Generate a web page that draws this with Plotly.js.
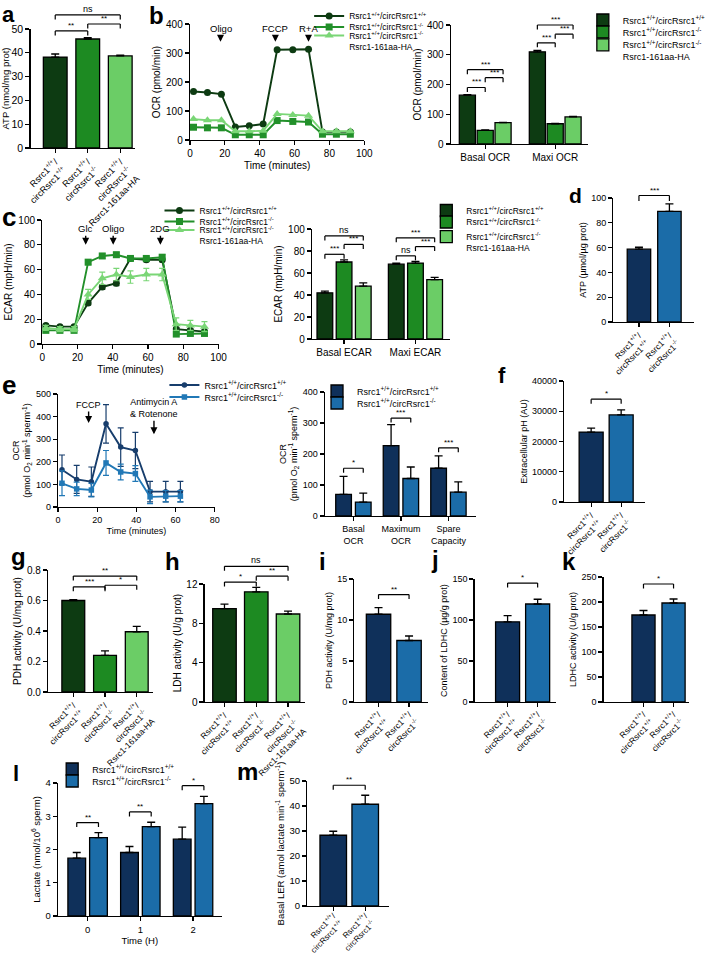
<!DOCTYPE html>
<html><head><meta charset="utf-8">
<script src="https://cdn.plot.ly/plotly-3.0.1.min.js"></script>
<style>html,body{margin:0;padding:0;background:#fff}#chart{width:711px;height:955px}</style>
</head><body><div id="chart"></div>
<script>
// ================= DATA =================
const catsGreen = ['Rsrc1<sup>+/+</sup>/<br>circRsrc1<sup>+/+</sup>', 'Rsrc1<sup>+/+</sup>/<br>circRsrc1<sup>-/-</sup>', 'Rsrc1<sup>+/+</sup>/<br>circRsrc1<sup>-/-</sup><br>Rsrc1-161aa-HA'];
const catsBlue = ['Rsrc1<sup>+/+</sup>/<br>circRsrc1<sup>+/+</sup>', 'Rsrc1<sup>+/+</sup>/<br>circRsrc1<sup>-/-</sup>'];
const namesGreen = ['Rsrc1<sup>+/+</sup>/circRsrc1<sup>+/+</sup>', 'Rsrc1<sup>+/+</sup>/circRsrc1<sup>-/-</sup>', 'Rsrc1<sup>+/+</sup>/circRsrc1<sup>-/-</sup><br>Rsrc1-161aa-HA'];
const namesBlue = ['Rsrc1<sup>+/+</sup>/circRsrc1<sup>+/+</sup>', 'Rsrc1<sup>+/+</sup>/circRsrc1<sup>-/-</sup>'];

// a
const atpA = [38.2, 45.8, 38.7];
const atpAErr = [1.3, 0.6, 0.3];
// b left
const timeB = [2, 10, 18, 26, 34, 42, 50, 59, 68, 76, 84, 92];
const ocrB_wt = [167, 164, 158, 45, 49, 55, 311, 311, 313, 28, 28, 28];
const ocrB_ko = [44, 42, 42, 18, 18, 18, 67, 64, 62, 20, 20, 20];
const ocrB_resc = [72, 68, 68, 30, 30, 32, 90, 86, 84, 30, 30, 30];
// b right
const ocrCats = ['Basal OCR', 'Maxi OCR'];
const ocrBar_wt = [164, 310], ocrBar_wtErr = [2, 5];
const ocrBar_ko = [46, 68], ocrBar_koErr = [1, 1.5];
const ocrBar_resc = [72, 91], ocrBar_rescErr = [1, 1.5];
// c left
const timeC = [2, 10, 18, 26, 34, 42, 50, 59, 68, 76, 84, 92];
const ecarC_wt = [15, 14, 14, 33, 46, 49, 69, 68, 68, 12, 11, 10];
const ecarC_wtErr = [1, 1, 1, 1.5, 2, 2, 1.5, 1.5, 1.5, 1, 1, 1];
const ecarC_ko = [11, 11, 11, 66, 71, 72, 69, 69, 70, 8, 8.5, 8.5];
const ecarC_koErr = [1, 1, 1, 2, 2, 2, 1.5, 1.5, 2, 1, 1, 1];
const ecarC_resc = [13, 12, 12, 40, 53, 56, 54, 56, 56, 16, 15, 14];
const ecarC_rescErr = [2, 2, 2, 4, 5, 5, 5, 5, 5, 5, 4, 4];
// c right
const ecarCats = ['Basal ECAR', 'Maxi ECAR'];
const ecarBar_wt = [42, 68], ecarBar_wtErr = [1.5, 1];
const ecarBar_ko = [70, 69], ecarBar_koErr = [2, 1.5];
const ecarBar_resc = [48, 54], ecarBar_rescErr = [3, 2];
// d
const atpD = [58.7, 89.2], atpDErr = [1.6, 6];
// e left
const timeE = [2, 9.5, 17, 24.5, 32, 39.5, 47, 55, 62.5];
const ocrE_wt = [165, 122, 112, 368, 265, 250, 68, 68, 68];
const ocrE_wtErr = [65, 62, 65, 85, 85, 80, 45, 45, 45];
const ocrE_ko = [105, 80, 75, 195, 155, 148, 45, 48, 48];
const ocrE_koErr = [55, 30, 30, 55, 35, 35, 30, 25, 25];
// e right
const ocrECats = ['Basal<br>OCR', 'Maximum<br>OCR', 'Spare<br>Capacity'];
const ocrEBar_wt = [70, 227, 154], ocrEBar_wtErr = [58, 68, 40];
const ocrEBar_ko = [45, 121, 77], ocrEBar_koErr = [29, 37, 33];
// f
const phF = [23100, 28800], phFErr = [1300, 1650];
// g
const pdhG = [0.6, 0.24, 0.395], pdhGErr = [0.006, 0.03, 0.035];
// h
const ldhH = [9.5, 11.2, 8.95], ldhHErr = [0.45, 0.45, 0.3];
// i
const pdhI = [10.7, 7.5], pdhIErr = [0.8, 0.55];
// j
const ldhcJ = [97.8, 119.5], ldhcJErr = [7.5, 5.8];
// k
const ldhcK = [174, 198], ldhcKErr = [9, 8];
// l
const timeL = ['0', '1', '2'];
const lac_wt = [1.74, 1.91, 2.31], lac_wtErr = [0.17, 0.18, 0.36];
const lac_ko = [2.36, 2.69, 3.38], lac_koErr = [0.15, 0.13, 0.22];
// m
const lerM = [28.3, 40.7], lerMErr = [1.6, 3.6];

// significance brackets: [from, to, value level, label]
const sigA = [[0, 2, 55.9, 'ns'], [0, 1, 49.2, '**'], [1, 2, 52.1, '**']];
const sigBR = [[-0.255, 0.255, 250, '***'], [-0.255, 0, 190, '***'], [0, 0.255, 223, '***'], [0.745, 1.255, 400, '***'], [0.745, 1, 340, '***'], [1, 1.255, 369, '***']];
const sigCR = [[-0.269, 0.269, 93.7, 'ns'], [-0.269, 0, 77, '***'], [0, 0.269, 86, '***'], [0.731, 1.269, 92, '***'], [0.731, 1, 75.6, 'ns'], [1, 1.269, 84, '***']];
const sigD = [[0, 1, 102, '***']];
const sigER = [[-0.207, 0.207, 154, '*'], [0.793, 1.207, 316, '***'], [1.793, 2.207, 220, '***']];
const sigF = [[0, 1, 34000, '*']];
const sigG = [[0, 2, 0.76, '**'], [0, 1, 0.69, '***'], [1, 2, 0.70, '*']];
const sigH = [[0, 2, 13.8, 'ns'], [0, 1, 12.2, '*'], [1, 2, 12.8, '**']];
const sigI = [[0, 1, 13.1, '**']];
const sigJ = [[0, 1, 145, '*']];
const sigK = [[0, 1, 236, '*']];
const sigL = [[-0.206, 0.206, 2.81, '**'], [0.794, 1.206, 3.13, '**'], [1.794, 2.206, 3.92, '*']];
const sigM = [[0, 1, 48.3, '**']];

// ================= STYLE / LAYOUT =================
const W = 711, H = 955;
const FONT = 'Liberation Sans, Arial, Helvetica, sans-serif';
const G1 = '#0d3b12', G2 = '#1d8a22', G3 = '#6bcd66';
const B1 = '#0f305a', B2 = '#1b6ca8';
const LG1 = '#0d3b12', LG2 = '#22902a', LG3 = '#7ad676';
const LB1 = '#173d6c', LB2 = '#2178b6';

const layout = {
  width: W, height: H, margin: {l: 0, r: 0, t: 0, b: 0},
  paper_bgcolor: '#fff', plot_bgcolor: 'rgba(0,0,0,0)',
  barmode: 'overlay', showlegend: true,
  font: {family: FONT, size: 9, color: '#000'},
  shapes: [], annotations: []
};
const traces = [];
const panels = {};

function axis(extra, title, fs, tfs) {
  const a = {
    showline: true, linecolor: '#000', linewidth: 1.3, ticks: 'outside', ticklen: 4, tickwidth: 1.2,
    tickcolor: '#000', showgrid: false, zeroline: false, fixedrange: true, automargin: false,
    tickfont: {family: FONT, size: fs, color: '#000'}
  };
  if (title) a.title = {text: title, font: {family: FONT, size: tfs || fs, color: '#000'}, standoff: 3};
  return Object.assign(a, extra);
}
function panel(name, n, b, fs, xo, yo, xt, yt, tfs) {
  const xid = n === 1 ? 'x' : 'x' + n, yid = n === 1 ? 'y' : 'y' + n;
  layout['xaxis' + (n === 1 ? '' : n)] = axis(Object.assign({domain: [b[0] / W, b[1] / W], anchor: yid}, xo), xt, fs, tfs);
  layout['yaxis' + (n === 1 ? '' : n)] = axis(Object.assign({domain: [1 - b[3] / H, 1 - b[2] / H], anchor: xid}, yo), yt, fs, tfs);
  panels[name] = {xid, yid, hpx: b[3] - b[2], ymax: yo.range[1]};
  return panels[name];
}
function errUp(arr) { return {type: 'data', array: arr, arrayminus: arr.map(() => 0), symmetric: false, color: '#000', thickness: 1.3, width: 4}; }
function errSym(arr, col) { return {type: 'data', array: arr, color: col, thickness: 1.2, width: 3}; }
function bars(p, x, y, err, color, extra) {
  traces.push(Object.assign({
    type: 'bar', x, y, xaxis: p.xid, yaxis: p.yid,
    marker: {color, line: {color: '#000', width: 1.3}},
    error_y: errUp(err), showlegend: false, hoverinfo: 'skip'
  }, extra || {}));
}
function lineT(p, x, y, err, col, sym, size, name, leg) {
  traces.push({
    type: 'scatter', mode: 'lines+markers', x, y, xaxis: p.xid, yaxis: p.yid, name,
    line: {color: col, width: 1.9}, marker: {color: col, symbol: sym, size},
    error_y: err ? errSym(err, col) : undefined, legend: leg, showlegend: true, hoverinfo: 'skip', cliponaxis: false
  });
}
function brackets(p, list, leg) {
  leg = leg || 4.5;
  const yr = p.yid + ' domain';
  list.forEach(([x0, x1, v, label]) => {
    const yf = v / p.ymax, lf = leg / p.hpx;
    const ln = {type: 'line', xref: p.xid, yref: yr, line: {color: '#000', width: 1.2}};
    layout.shapes.push(Object.assign({}, ln, {x0: x0, x1: x0, y0: yf - lf, y1: yf}));
    layout.shapes.push(Object.assign({}, ln, {x0: x0, x1: x1, y0: yf, y1: yf}));
    layout.shapes.push(Object.assign({}, ln, {x0: x1, x1: x1, y0: yf - lf, y1: yf}));
    layout.annotations.push({xref: p.xid, yref: yr, x: (x0 + x1) / 2, y: yf, text: label, showarrow: false,
      xanchor: 'center', yanchor: 'bottom', yshift: -1, font: {family: FONT, size: label === 'ns' ? 9 : 8, color: '#000'}});
  });
}
let legN = 0;
function legendAt(textX, centerY, valign, fs) {
  legN++;
  const key = legN === 1 ? 'legend' : 'legend' + legN;
  layout[key] = {x: (textX - 35) / W, y: 1 - (centerY - 12.5) / H, xanchor: 'left', yanchor: 'top', xref: 'paper', yref: 'paper',
    bgcolor: 'rgba(0,0,0,0)', borderwidth: 0, font: {family: FONT, size: fs || 9, color: '#000'},
    itemwidth: 30, tracegroupgap: 0, valign: valign || 'middle', itemclick: false, itemdoubleclick: false};
  return key;
}
function arrowLabel(p, x, yTip, text, ay, fs) {
  layout.annotations.push({xref: p.xid, yref: p.yid, x, y: yTip, text, showarrow: true, arrowhead: 2,
    arrowsize: 1, arrowwidth: 1.4, arrowcolor: '#000', ax: 0, ay, standoff: 0,
    font: {family: FONT, size: fs || 9.5, color: '#000'}});
}
function letter(t, px, py, size, anchor) {
  layout.annotations.push({xref: 'paper', yref: 'paper', x: px / W, y: 1 - py / H, text: '<b>' + t + '</b>',
    showarrow: false, xanchor: 'left', yanchor: anchor || 'middle', font: {family: FONT, size: size, color: '#000'}});
}

const rot = (fs, so) => ({tickangle: -45, tickfont: {family: FONT, size: fs, color: '#000'}, ticklabelstandoff: so || 0});

// ---- a
let p = panel('a', 1, [31, 137, 29, 148], 10.5, Object.assign({type: 'category', range: [-0.76, 2.45]}, rot(9)),
  {range: [0, 50], dtick: 10}, null, 'ATP (nmol/mg prot)', 9.5);
bars(p, catsGreen, atpA, atpAErr, [G1, G2, G3], {width: 0.73});
brackets(p, sigA);

// ---- b left
p = panel('bl', 2, [193, 370, 24, 140], 10, {range: [0, 100], dtick: 20}, {range: [0, 400], dtick: 100},
  'Time (minutes)', 'OCR (pmol/min)');
lineT(p, timeB, ocrB_wt, null, LG1, 'circle', 7, namesGreen[0], legendAt(349, 14, null, 8.5));
lineT(p, timeB, ocrB_ko, null, LG2, 'square', 7, namesGreen[1], legendAt(349, 25, null, 8.5));
lineT(p, timeB, ocrB_resc, null, LG3, 'triangle-up', 8, namesGreen[2], legendAt(349, 36, 'top', 8.5));
arrowLabel(p, 17.5, 339, 'Oligo', -13);
arrowLabel(p, 49, 339, 'FCCP', -13);
arrowLabel(p, 68, 339, 'R+A', -13);

// ---- b right
p = panel('br', 3, [458, 597, 25, 144], 10, {type: 'category', range: [-0.49, 1.465]}, {range: [0, 400], dtick: 100},
  null, 'OCR (pmol/min)');
bars(p, ocrCats, ocrBar_wt, ocrBar_wtErr, G1, {width: 0.23, offset: -0.37, name: namesGreen[0], showlegend: true, legend: legendAt(627, 18)});
bars(p, ocrCats, ocrBar_ko, ocrBar_koErr, G2, {width: 0.23, offset: -0.115, name: namesGreen[1], showlegend: true, legend: legendAt(627, 30)});
bars(p, ocrCats, ocrBar_resc, ocrBar_rescErr, G3, {width: 0.23, offset: 0.14, name: namesGreen[2], showlegend: true, legend: legendAt(627, 45, 'top')});
brackets(p, sigBR);

// ---- c left
p = panel('cl', 4, [43, 222, 220, 344], 10, {range: [0, 100], dtick: 20}, {range: [0, 100], dtick: 20},
  'Time (minutes)', 'ECAR (mpH/min)');
lineT(p, timeC, ecarC_wt, ecarC_wtErr, LG1, 'circle', 7, namesGreen[0], legendAt(197, 208.5, null, 8.5));
lineT(p, timeC, ecarC_ko, ecarC_koErr, LG2, 'square', 7, namesGreen[1], legendAt(197, 219.5, null, 8.5));
lineT(p, timeC, ecarC_resc, ecarC_rescErr, LG3, 'triangle-up', 8, namesGreen[2], legendAt(197, 230.5, 'top', 8.5));
arrowLabel(p, 24.6, 80, 'Glc', -16);
arrowLabel(p, 40.2, 80, 'Oligo', -16);
arrowLabel(p, 67, 80, '2DG', -16);

// ---- c right
p = panel('cr', 5, [317, 457, 229, 339], 10, {type: 'category', range: [-0.448, 1.483]}, {range: [0, 100], dtick: 20},
  null, 'ECAR (mpH/min)');
bars(p, ecarCats, ecarBar_wt, ecarBar_wtErr, G1, {width: 0.22, offset: -0.379, name: namesGreen[0], showlegend: true, legend: legendAt(468, 208.5, null, 8.5)});
bars(p, ecarCats, ecarBar_ko, ecarBar_koErr, G2, {width: 0.22, offset: -0.11, name: namesGreen[1], showlegend: true, legend: legendAt(468, 220, null, 8.5)});
bars(p, ecarCats, ecarBar_resc, ecarBar_rescErr, G3, {width: 0.22, offset: 0.159, name: namesGreen[2], showlegend: true, legend: legendAt(468, 237, 'top', 8.5)});
brackets(p, sigCR);

// ---- d
p = panel('d', 6, [623, 705, 198, 322], 9, Object.assign({type: 'category', range: [-0.84, 1.81]}, rot(8.5)),
  {range: [0, 100], dtick: 20}, null, 'ATP (µmol/µg prot)');
bars(p, catsBlue, atpD, atpDErr, [B1, B2], {width: 0.77});
brackets(p, sigD, 5.5);

// ---- e left
p = panel('el', 7, [59, 218, 394, 507], 9, {range: [0, 80], dtick: 20}, {range: [0, 500], dtick: 100},
  'Time (minutes)', 'OCR<br>(pmol O<sub>2</sub> min<sup>-1</sup> sperm<sup>-1</sup>)');
lineT(p, timeE, ocrE_wt, ocrE_wtErr, LB1, 'circle', 5.5, namesBlue[0], legendAt(202, 383));
lineT(p, timeE, ocrE_ko, ocrE_koErr, LB2, 'square', 5.5, namesBlue[1], legendAt(202, 395));
arrowLabel(p, 15.6, 372, 'FCCP', -18, 9);
arrowLabel(p, 49, 322, 'Antimycin A<br>&amp; Rotenone', -26, 9);

// ---- e right
p = panel('er', 8, [330, 483, 392, 516], 9, {type: 'category', range: [-0.6, 2.57]}, {range: [0, 400], dtick: 100},
  null, 'OCR<br>(pmol O<sub>2</sub> min<sup>-1</sup> sperm<sup>-1</sup>)');
bars(p, ocrECats, ocrEBar_wt, ocrEBar_wtErr, B1, {width: 0.33, offset: -0.372, name: namesBlue[0], showlegend: true, legend: legendAt(357, 389)});
bars(p, ocrECats, ocrEBar_ko, ocrEBar_koErr, B2, {width: 0.33, offset: 0.042, name: namesBlue[1], showlegend: true, legend: legendAt(357, 401)});
brackets(p, sigER);

// ---- f
p = panel('f', 9, [573, 655, 381, 502], 9, Object.assign({type: 'category', range: [-0.9, 1.79]}, rot(8.5)),
  {range: [0, 40000], dtick: 10000, tickformat: 'd'}, null, 'Extracellular pH (AU)');
bars(p, catsBlue, phF, phFErr, [B1, B2], {width: 0.8});
brackets(p, sigF);

// ---- g
p = panel('g', 10, [49, 155, 570, 692], 10, Object.assign({type: 'category', range: [-0.79, 2.5]}, rot(8.5)),
  {range: [0, 0.8], dtick: 0.2, tickformat: '.1f'}, null, 'PDH activity (U/mg prot)');
bars(p, catsGreen, pdhG, pdhGErr, [G1, G2, G3], {width: 0.72});
brackets(p, sigG);

// ---- h
p = panel('h', 11, [208, 310, 584, 702], 10, Object.assign({type: 'category', range: [-0.62, 2.54]}, rot(8.5)),
  {range: [0, 12], dtick: 4}, null, 'LDH activity (U/g prot)');
bars(p, catsGreen, ldhH, ldhHErr, [G1, G2, G3], {width: 0.74});
brackets(p, sigH);

// ---- i
p = panel('i', 12, [360, 435, 579, 702], 9, Object.assign({type: 'category', range: [-0.79, 1.63]}, rot(8.5, -1)),
  {range: [0, 15], dtick: 5}, null, 'PDH activity (U/mg prot)');
bars(p, catsBlue, pdhI, pdhIErr, [B1, B2], {width: 0.8});
brackets(p, sigI);

// ---- j
p = panel('j', 13, [482, 565, 579, 702], 9, Object.assign({type: 'category', range: [-1.1, 1.62]}, rot(8.5, -1)),
  {range: [0, 150], dtick: 50}, null, 'Content of LDHC (µg/g prot)');
bars(p, catsBlue, ldhcJ, ldhcJErr, [B1, B2], {width: 0.8});
brackets(p, sigJ);

// ---- k
p = panel('k', 14, [613, 700, 577, 702], 9, Object.assign({type: 'category', range: [-1.33, 1.52]}, rot(8.5, -1)),
  {range: [0, 250], dtick: 50}, null, 'LDHC activity (U/g prot)');
bars(p, catsBlue, ldhcK, ldhcKErr, [B1, B2], {width: 0.77});
brackets(p, sigK);

// ---- l
p = panel('l', 15, [59, 225, 783, 916], 9.5, {type: 'category', range: [-0.56, 2.54]}, {range: [0, 4], dtick: 1},
  'Time (H)', 'Lactate (nmol/10<sup>6</sup> sperm)');
bars(p, timeL, lac_wt, lac_wtErr, B1, {width: 0.336, offset: -0.374, name: namesBlue[0], showlegend: true, legend: legendAt(88, 767)});
bars(p, timeL, lac_ko, lac_koErr, B2, {width: 0.336, offset: 0.038, name: namesBlue[1], showlegend: true, legend: legendAt(88, 779)});
brackets(p, sigL);

// ---- m
p = panel('m', 16, [312, 395, 781, 906], 9.5, Object.assign({type: 'category', range: [-0.815, 1.74]}, rot(8, -3)),
  {range: [0, 50], dtick: 10}, null, 'Basal LER (amol lactate min<sup>-1</sup> sperm<sup>-1</sup>)');
bars(p, catsBlue, lerM, lerMErr, [B1, B2], {width: 0.83});
brackets(p, sigM);

// panel letters
letter('a', 0, 0, 22, 'top');
letter('b', 149, 0, 24, 'top');
letter('c', 0, 216.7, 26);
letter('d', 576, 195.7, 21);
letter('e', 0, 384.7, 26);
letter('f', 504, 375.7, 22);
letter('g', 9, 556, 24);
letter('h', 166, 561.7, 24);
letter('i', 322, 561.7, 24);
letter('j', 436, 559.7, 24);
letter('k', 569, 561.7, 24);
letter('l', 11, 773.7, 22);
letter('m', 239, 771.7, 24);

Plotly.newPlot('chart', traces, layout, {staticPlot: true, displayModeBar: false});
</script></body></html>
